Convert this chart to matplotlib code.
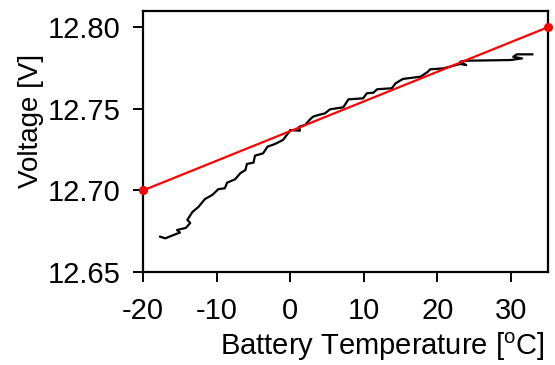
import matplotlib
matplotlib.use("Agg")
import matplotlib.pyplot as plt
import matplotlib as mpl

# --------- estilo ---------
mpl.rcParams["font.family"] = ["Liberation Sans", "DejaVu Sans"]
mpl.rcParams["mathtext.fontset"] = "custom"
mpl.rcParams["mathtext.rm"] = "Liberation Sans"
mpl.rcParams["axes.unicode_minus"] = False
mpl.rcParams["font.size"] = 21

# --------- datos ---------
temp = [-17.7, -17.0, -15.5, -15.0, -15.4, -14.2, -13.6, -14.0, -13.3, -12.5,
        -11.6, -10.6, -9.8, -8.9, -8.6, -7.5, -6.8, -6.1, -5.9, -5.0,
        -4.8, -3.7, -3.1, -2.1, -1.0, -0.3, 0.0, 1.3, 1.2, 2.0,
        2.7, 3.1, 3.8, 4.7, 5.4, 7.2, 7.9, 9.9, 10.4, 11.3,
        11.8, 13.8, 14.3, 15.3, 17.7, 18.7, 19.0, 20.8, 23.1, 23.9,
        23.1, 24.0, 29.9, 31.5, 30.3, 30.8, 32.9]
voltage = [12.6716, 12.6706, 12.6733, 12.6741, 12.6757, 12.6770, 12.6800, 12.6819, 12.6868, 12.6898,
           12.6947, 12.6972, 12.7007, 12.7013, 12.7047, 12.7068, 12.7105, 12.7125, 12.7162, 12.7170,
           12.7213, 12.7227, 12.7268, 12.7284, 12.7309, 12.7350, 12.7370, 12.7366, 12.7390, 12.7401,
           12.7436, 12.7452, 12.7462, 12.7472, 12.7497, 12.7509, 12.7558, 12.7564, 12.7595, 12.7599,
           12.7620, 12.7626, 12.7656, 12.7683, 12.7697, 12.7727, 12.7742, 12.7748, 12.7775, 12.7768,
           12.7789, 12.7795, 12.7799, 12.7809, 12.7819, 12.7834, 12.7834]

fit_temp = [-20, 35]
fit_voltage = [12.70, 12.80]

x_ticks = [-20, -10, 0, 10, 20, 30]
y_ticks = [12.65, 12.70, 12.75, 12.80]

# --------- grafico ---------
fig = plt.figure(figsize=(5.55, 3.65), dpi=100)
ax = fig.add_axes([0.258, 0.255, 0.729, 0.715])

ax.plot(temp, voltage, color="black", linewidth=1.6)
ax.plot(fit_temp, fit_voltage, color="red", linewidth=1.6,
        marker="o", markersize=5.5, clip_on=False, zorder=5)

ax.set_xlim(-20, 35)
ax.set_ylim(12.65, 12.81)
ax.set_xticks(x_ticks)
ax.set_yticks(y_ticks)
ax.set_yticklabels([f"{v:.2f}" for v in y_ticks])

for s in ax.spines.values():
    s.set_linewidth(1.6)
ax.tick_params(direction="out", length=7, width=1.4, top=False, right=False,
               labelsize=21)
ax.tick_params(axis="x", pad=11)
ax.tick_params(axis="y", pad=9)

ax.set_xlabel(r"Battery Temperature [$^{\mathrm{o}}$C]", fontsize=21,
              labelpad=4, x=0.59)
ax.set_ylabel("Voltage [V]", fontsize=20, labelpad=3, y=0.58)

fig.savefig("out.png", dpi=100)
